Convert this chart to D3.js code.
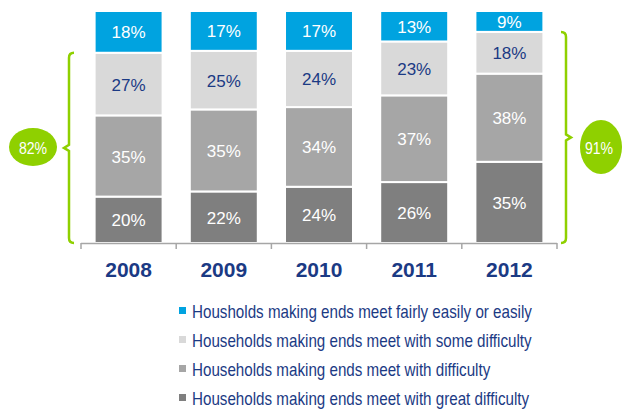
<!DOCTYPE html>
<html><head><meta charset="utf-8">
<script src="https://cdn.jsdelivr.net/npm/d3@7"></script>
<style>body{margin:0;background:#fff}svg{display:block;font-family:"Liberation Sans",Arial,sans-serif}</style>
</head><body><svg id="c" width="625" height="409"></svg>
<script>
const years = ["2008","2009","2010","2011","2012"];
const easily = [18,17,17,13,9];
const someDifficulty = [27,25,24,23,18];
const difficulty = [35,35,34,37,38];
const greatDifficulty = [20,22,24,26,35];
const seriesNames = [
  "Housholds making ends meet fairly easily or easily",
  "Households making ends meet with some difficulty",
  "Households making ends meet with difficulty",
  "Households making ends meet with great difficulty"
];
const bracketLabels = ["82%","91%"];

const colors = ["#00a3e0","#d9d9d9","#a6a6a6","#7f7f7f"];
const labelColors = ["#ffffff","#1b3a84","#ffffff","#ffffff"];
const keys = ["great","diff","some","easy"];
const rows = years.map((y,i)=>{
  const t = easily[i]+someDifficulty[i]+difficulty[i]+greatDifficulty[i];
  return {year:y, easy:easily[i], some:someDifficulty[i], diff:difficulty[i], great:greatDifficulty[i], total:t};
});
const colorOf = {easy:colors[0], some:colors[1], diff:colors[2], great:colors[3]};
const lcolorOf = {easy:labelColors[0], some:labelColors[1], diff:labelColors[2], great:labelColors[3]};

const svg = d3.select("#c");
const x = d3.scaleBand().domain(years).range([81,557]).paddingInner(0.286).paddingOuter(0.143);
const y = d3.scaleLinear().domain([0,100]).range([243,11]);
// normalised to 100% (shares shown are rounded)
const stack = d3.stack().keys(keys).value((d,k)=>d[k]/d.total*100)(rows);

const g = svg.append("g");
stack.forEach(layer=>{
  g.selectAll(null).data(layer).enter().append("rect")
    .attr("x",d=>x(d.data.year)).attr("width",x.bandwidth())
    .attr("y",d=>y(d[1])).attr("height",d=>y(d[0])-y(d[1]))
    .attr("fill",colorOf[layer.key]).attr("stroke","#fff").attr("stroke-width",2);
  g.selectAll(null).data(layer).enter().append("text")
    .attr("x",d=>x(d.data.year)+x.bandwidth()/2)
    .attr("y",d=>(y(d[0])+y(d[1]))/2+1)
    .attr("text-anchor","middle").attr("dominant-baseline","central")
    .attr("font-size",17).attr("fill",lcolorOf[layer.key])
    .text(d=>d.data[layer.key]+"%");
});

// axis
const step = x.step();
const ax = svg.append("g");
ax.append("line").attr("x1",81).attr("x2",557).attr("y1",243.5).attr("y2",243.5).attr("stroke","#a6a6a6").attr("stroke-width",1.5);
d3.range(years.length+1).forEach(i=>{
  const xx = 81 + i*step;
  ax.append("line").attr("x1",xx).attr("x2",xx).attr("y1",243).attr("y2",249).attr("stroke","#a6a6a6").attr("stroke-width",1.5);
});
ax.selectAll(null).data(years).enter().append("text")
  .attr("x",d=>x(d)+x.bandwidth()/2).attr("y",277)
  .attr("text-anchor","middle").attr("font-size",21).attr("font-weight","bold").attr("fill","#1b3a84")
  .text(d=>d);

// brackets
const green = "#8fd000";
function brace(xv, top, bot, dir, mid){
  const h = 5*dir;
  return `M${xv+h},${top} Q${xv},${top} ${xv},${top+5} L${xv},${mid-3} L${xv-h},${mid} L${xv},${mid+3} L${xv},${bot-5} Q${xv},${bot} ${xv+h},${bot}`;
}
const r0 = rows[0], r4 = rows[4];
const top1 = y((r0.total-r0.easy)/r0.total*100), top2 = y((r4.total-r4.easy)/r4.total*100);
const m1 = (top1+y(0))/2, m2 = (top2+y(0))/2;
svg.append("path").attr("d",brace(69,top1,y(0),1,m1)).attr("fill","none").attr("stroke",green).attr("stroke-width",2.5);
svg.append("path").attr("d",brace(566,top2,y(0),-1,m2)).attr("fill","none").attr("stroke",green).attr("stroke-width",2.5);
svg.append("ellipse").attr("cx",33).attr("cy",147).attr("rx",24).attr("ry",19).attr("fill",green);
svg.append("ellipse").attr("cx",601).attr("cy",147).attr("rx",21).attr("ry",27).attr("fill",green);
[[33,bracketLabels[0]],[599,bracketLabels[1]]].forEach(([cx,t])=>{
  svg.append("text").attr("x",0).attr("y",0).attr("text-anchor","middle").attr("dominant-baseline","central")
    .attr("font-size",16).attr("fill","#fff").attr("transform",`translate(${cx},148) scale(0.88,1)`).text(t);
});

// legend
const lg = svg.append("g");
const legTexts = [];
seriesNames.forEach((n,i)=>{
  const cy = 311 + i*29;
  lg.append("rect").attr("x",179).attr("y",cy-4).attr("width",7).attr("height",7).attr("fill",colors[i]);
  const t = lg.append("text").attr("x",0).attr("y",0).attr("dominant-baseline","central")
    .attr("font-size",17.5).attr("fill","#1b3a84").attr("transform",`translate(192,${cy+0.5})`).text(n);
  legTexts.push(t);
});
const s = 340 / legTexts[0].node().getComputedTextLength();
legTexts.forEach((t,i)=>t.attr("transform",`translate(192,${311+i*29+0.5}) scale(${s},1)`));
</script></body></html>
